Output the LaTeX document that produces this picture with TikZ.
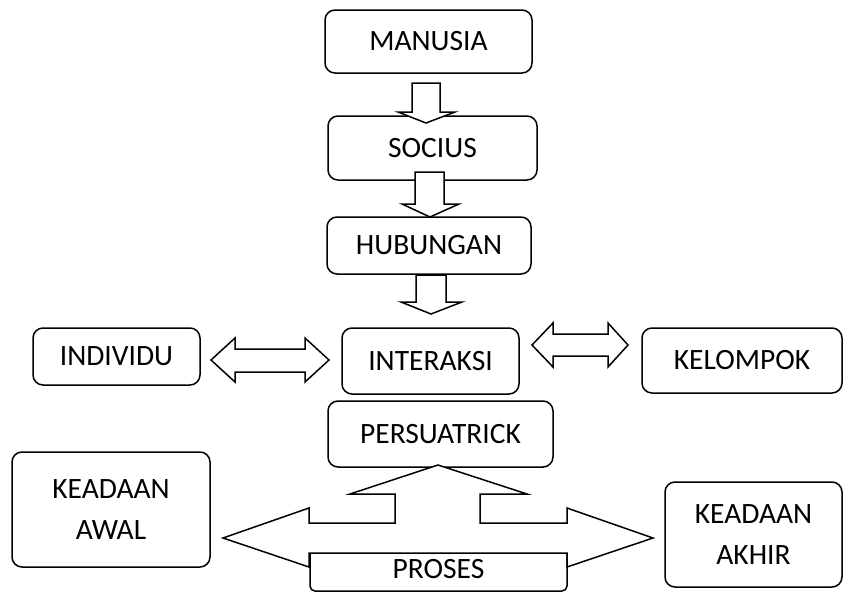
\documentclass[tikz,border=0pt]{standalone}
\usepackage{fontspec}
\setmainfont{Carlito}
\usetikzlibrary{positioning}

\tikzset{
  box/.style={draw, line width=1.5pt, rounded corners=10pt, fill=white,
    font=\fontsize{29.5}{41}\selectfont, align=center, inner sep=0pt},
  blockarrow/.style={draw, line width=1.5pt, fill=white, line join=miter}
}

\begin{document}
\begin{tikzpicture}[x=1pt, y=-1pt]
\useasboundingbox (0,0) rectangle (844,592);

% Kotak-kotak
\node[box, minimum width=207pt, minimum height=63pt] (manusia) at (428.5,41.5) {MANUSIA};
\node[box, minimum width=209pt, minimum height=64pt] (socius) at (432.5,148) {SOCIUS};
\node[box, minimum width=204pt, minimum height=57pt] (hubungan) at (429,245.5) {HUBUNGAN};
\node[box, minimum width=167pt, minimum height=57pt] (individu) at (116.5,356.5) {INDIVIDU};
\node[box, minimum width=177pt, minimum height=66pt] (interaksi) at (430.5,361) {INTERAKSI};
\node[box, minimum width=200pt, minimum height=65pt] (kelompok) at (742,360.5) {KELOMPOK};
\node[box, minimum width=225pt, minimum height=66pt] (persuatrick) at (440.5,434) {PERSUATRICK};
\node[box, minimum width=198pt, minimum height=115pt] (awal) at (111,509.5) {KEADAAN\\AWAL};
\node[box, minimum width=177pt, minimum height=105pt] (akhir) at (753.5,534.5) {KEADAAN\\AKHIR};
\node[box, rounded corners=5pt, minimum width=257pt, minimum height=44pt] (proses) at (438.5,569) {PROSES};

% Panah ke bawah
\draw[blockarrow] (412,83) -- (440,83) -- (440,112) -- (455,112) -- (426,123)
  -- (398,112) -- (412,112) -- cycle;
\draw[blockarrow] (415,172) -- (444,172) -- (444,204) -- (459,204) -- (430,217)
  -- (402,204) -- (415,204) -- cycle;
\draw[blockarrow] (416,275) -- (446,275) -- (446,302) -- (462,302) -- (431,314)
  -- (401,302) -- (416,302) -- cycle;

% Panah dua arah
\draw[blockarrow] (211,360) -- (235,338) -- (235,349) -- (305,349) -- (305,338)
  -- (329,360) -- (305,382) -- (305,372) -- (235,372) -- (235,382) -- cycle;
\draw[blockarrow] (532,345) -- (553,323) -- (553,334) -- (608,334) -- (608,323)
  -- (628,345) -- (608,367) -- (608,356) -- (553,356) -- (553,367) -- cycle;

% Panah tiga arah
\draw[blockarrow] (438,465) -- (527,494) -- (480,494) -- (480,523) -- (567,523)
  -- (567,508) -- (653,538) -- (567,567) -- (567,553) -- (309,553) -- (309,567)
  -- (223,538) -- (309,508) -- (309,523) -- (395,523) -- (395,494) -- (350,494) -- cycle;

\end{tikzpicture}
\end{document}
